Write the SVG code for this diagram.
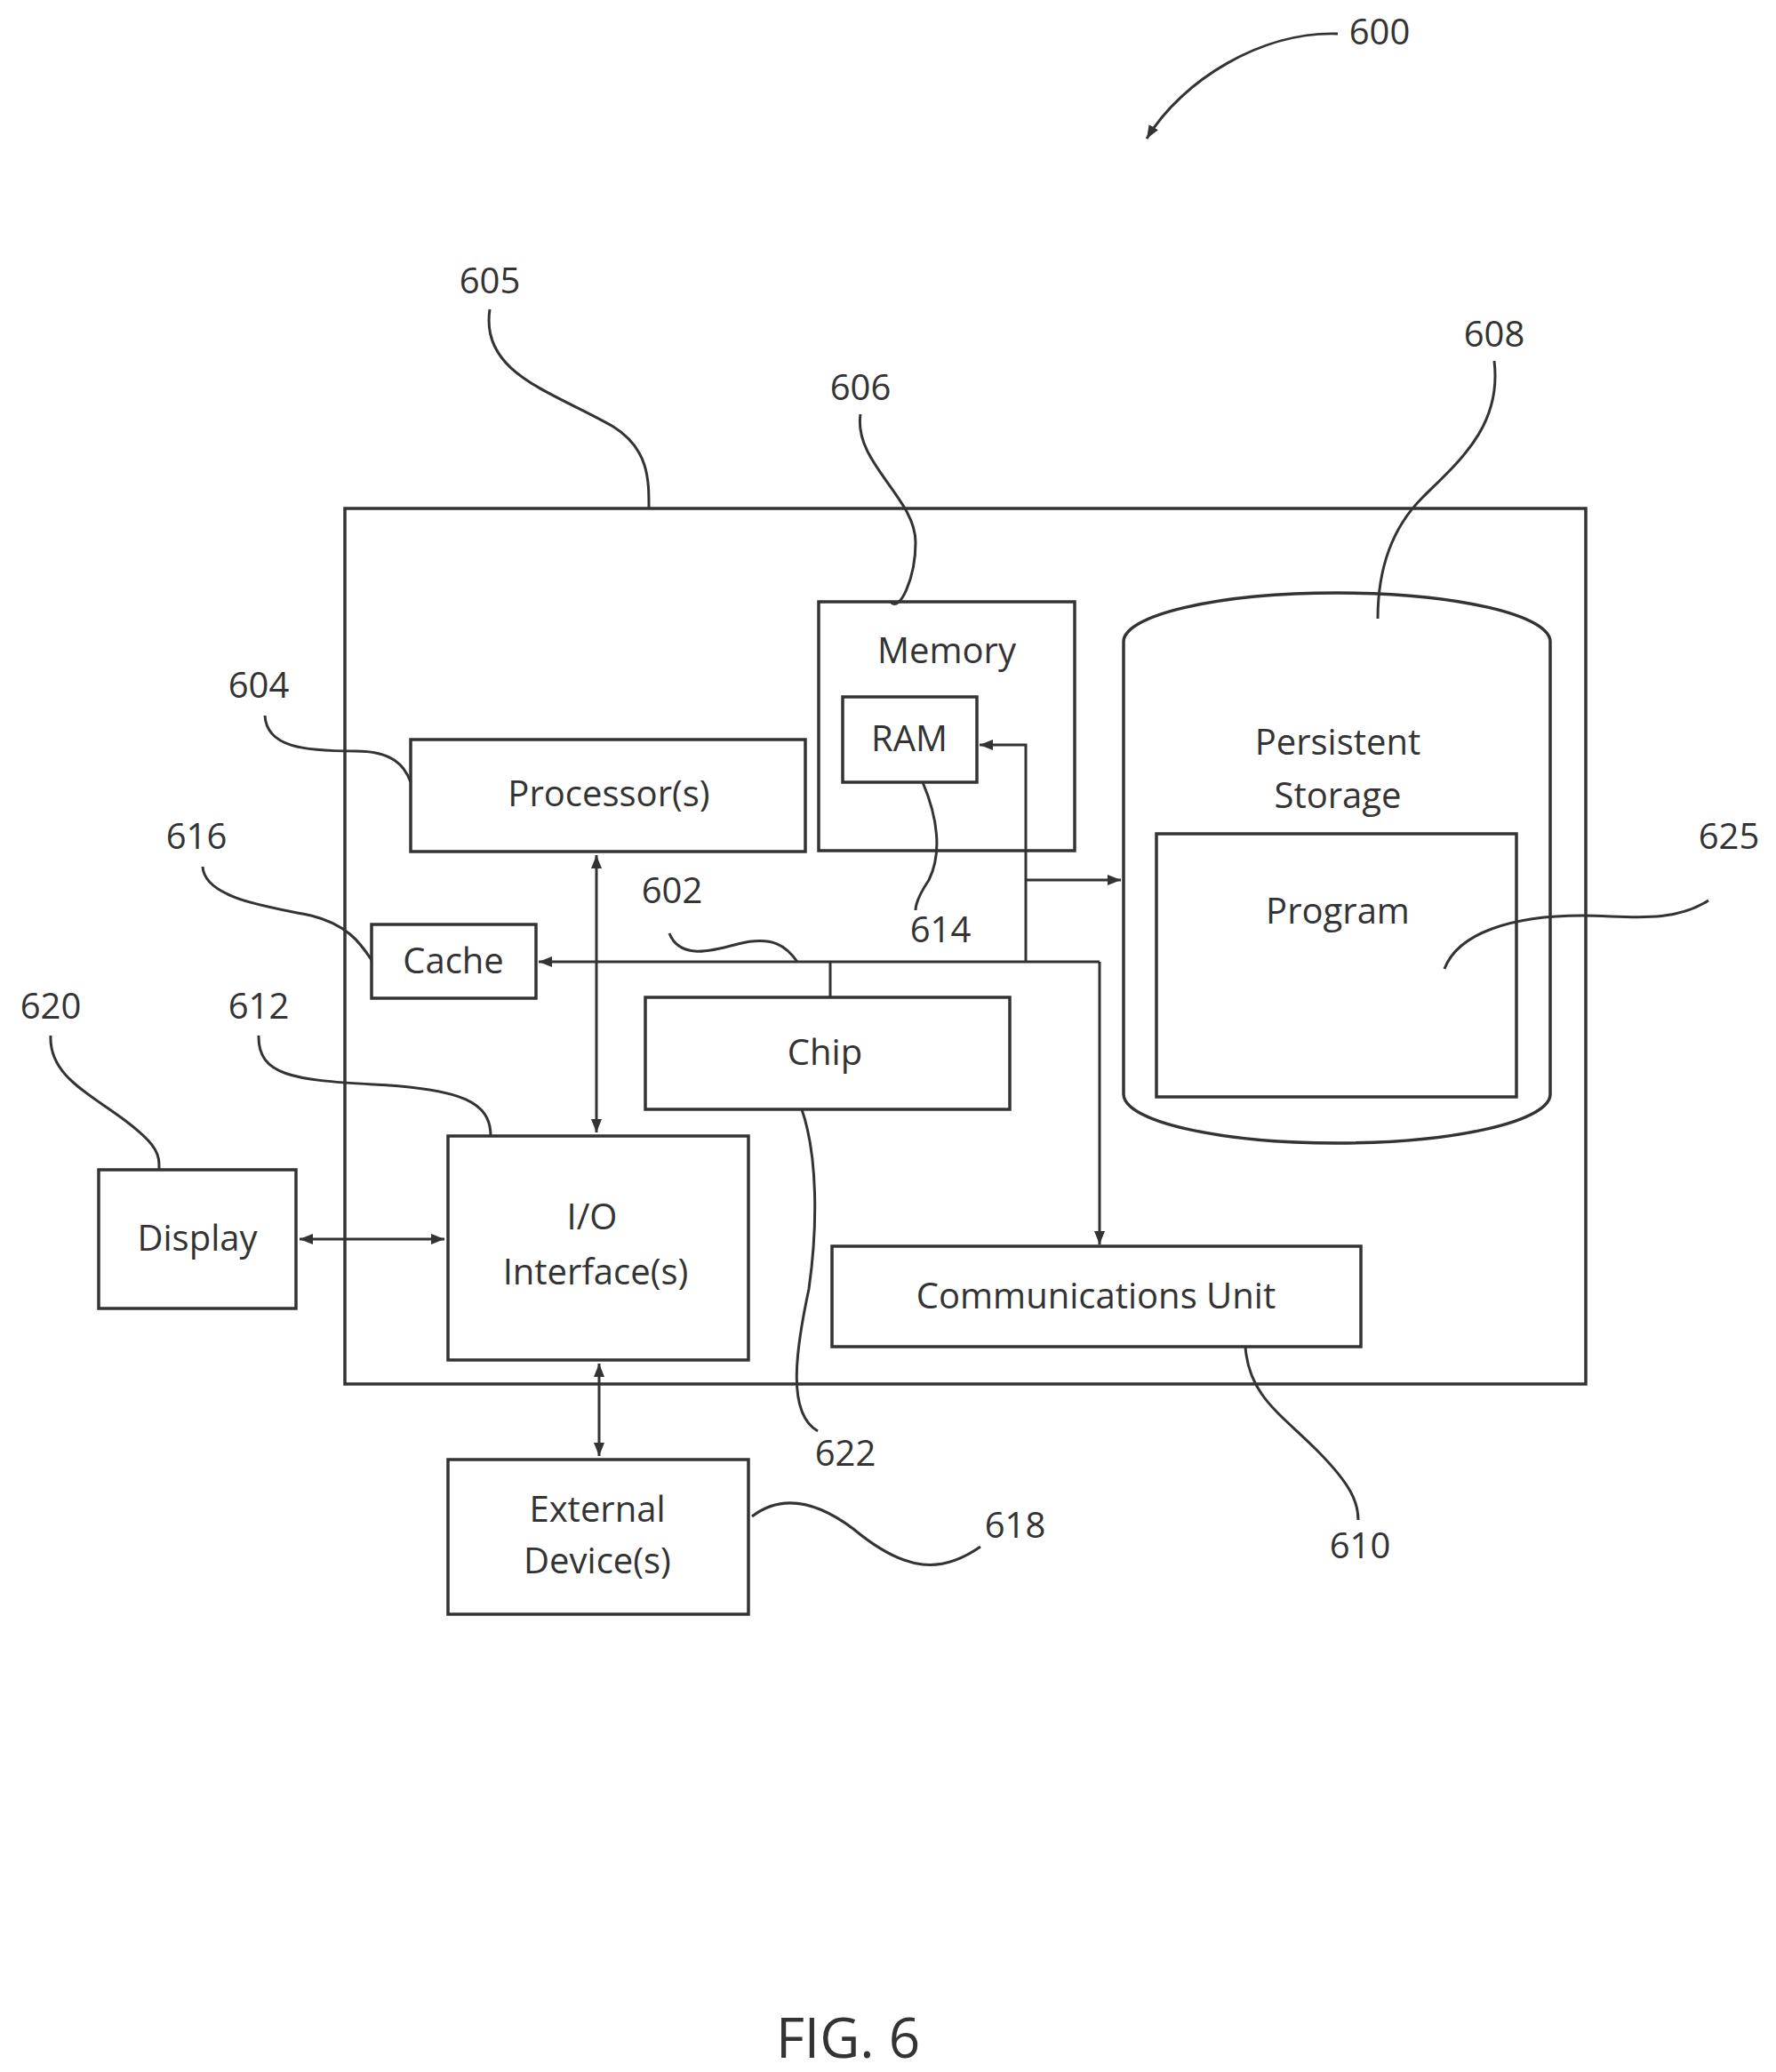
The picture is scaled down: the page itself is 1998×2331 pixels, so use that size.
<svg xmlns="http://www.w3.org/2000/svg" width="1998" height="2331" viewBox="0 0 1998 2331">
<style>
.b{fill:none;stroke:#333;stroke-width:3.5}
.l{fill:none;stroke:#333;stroke-width:3}
text{font-family:"Open Sans","Liberation Sans",sans-serif;font-size:40px;fill:#333;text-anchor:middle}
</style>
<defs>
<marker id="a" viewBox="0 0 10 10" refX="10" refY="5" markerWidth="5" markerHeight="5" orient="auto-start-reverse"><path d="M0,1 L10,5 L0,9 z" fill="#333"/></marker>
</defs>
<rect width="1998" height="2331" fill="#fff"/>
<g id="n605"><rect class="b" x="388" y="572" width="1396" height="985"/></g>
<g id="n604"><rect class="b" x="462" y="832" width="444" height="126"/><text x="685" y="907">Processor(s)</text></g>
<g id="n606"><rect class="b" x="921" y="677" width="288" height="280"/><text x="1065" y="746">Memory</text></g>
<g id="n614"><rect class="b" x="948" y="784" width="151" height="96"/><text x="1023" y="845">RAM</text></g>
<g id="n616"><rect class="b" x="418" y="1040" width="185" height="83"/><text x="510" y="1095">Cache</text></g>
<g id="n622"><rect class="b" x="726" y="1122" width="410" height="126"/><text x="928" y="1198">Chip</text></g>
<g id="n608"><path class="b" d="M1264,722 A240,55 0 0 1 1744,722 L1744,1231 A240,55 0 0 1 1264,1231 Z"/><text x="1505" y="849">Persistent</text><text x="1505" y="909">Storage</text></g>
<g id="n625"><rect class="b" x="1301" y="938" width="405" height="296"/><text x="1505" y="1039">Program</text></g>
<g id="n620"><rect class="b" x="111" y="1316" width="222" height="156"/><text x="222" y="1407">Display</text></g>
<g id="n612"><rect class="b" x="504" y="1278" width="338" height="252"/><text x="666" y="1383">I/O</text><text x="670" y="1445">Interface(s)</text></g>
<g id="n610"><rect class="b" x="936" y="1402" width="595" height="113"/><text x="1233" y="1472">Communications Unit</text></g>
<g id="n618"><rect class="b" x="504" y="1642" width="338" height="174"/><text x="672" y="1712">External</text><text x="672" y="1770">Device(s)</text></g>
<g id="connectors">
<path class="l" d="M1237,1082 L606,1082" marker-end="url(#a)"/>
<path class="l" d="M934,1082 L934,1122"/>
<path class="l" d="M1237,1082 L1237,1400" marker-end="url(#a)"/>
<path class="l" d="M1154,1082 L1154,838 L1102,838" marker-end="url(#a)"/>
<path class="l" d="M1154,990 L1261,990" marker-end="url(#a)"/>
<path class="l" d="M671,962 L671,1274" marker-start="url(#a)" marker-end="url(#a)"/>
<path class="l" d="M337,1394 L500,1394" marker-start="url(#a)" marker-end="url(#a)"/>
<path class="l" d="M674,1534 L674,1638" marker-start="url(#a)" marker-end="url(#a)"/>
</g>
<g id="labels">
<text x="1552" y="50">600</text>
<path class="l" d="M1505,38 C1420,35 1330,90 1290,156" marker-end="url(#a)"/>
<text x="551" y="330">605</text>
<path class="l" d="M551,348 C540,420 620,440 690,480 C730,505 730,540 730,571"/>
<text x="968" y="450">606</text>
<path class="l" d="M968,466 C960,520 1030,560 1030,610 C1030,650 1012,690 1002,677"/>
<text x="1681" y="390">608</text>
<path class="l" d="M1681,406 C1690,480 1640,520 1600,560 C1560,600 1550,650 1550,696"/>
<text x="1945" y="955">625</text>
<path class="l" d="M1922,1013 C1880,1040 1830,1030 1780,1030 C1700,1030 1640,1050 1625,1090"/>
<text x="291" y="785">604</text>
<path class="l" d="M298,805 C300,840 340,845 400,845 C440,845 455,860 462,880"/>
<text x="221" y="955">616</text>
<path class="l" d="M228,975 C230,1010 300,1020 350,1030 C390,1040 405,1060 418,1080"/>
<text x="57" y="1146">620</text>
<path class="l" d="M57,1165 C55,1210 100,1230 140,1260 C180,1290 179,1300 179,1316"/>
<text x="291" y="1146">612</text>
<path class="l" d="M291,1165 C290,1210 330,1215 420,1220 C520,1225 552,1240 552,1278"/>
<text x="756" y="1016">602</text>
<path class="l" d="M753,1050 C765,1080 800,1070 830,1062 C870,1052 885,1065 897,1082"/>
<text x="1058" y="1060">614</text>
<path class="l" d="M1038,880 C1055,920 1060,960 1045,990 C1035,1005 1030,1015 1030,1024"/>
<text x="951" y="1649">622</text>
<path class="l" d="M902,1248 C920,1300 920,1380 910,1450 C895,1520 885,1590 920,1610"/>
<text x="1530" y="1753">610</text>
<path class="l" d="M1401,1515 C1405,1570 1440,1590 1480,1630 C1520,1670 1528,1690 1528,1710"/>
<text x="1142" y="1730">618</text>
<path class="l" d="M846,1706 C880,1680 920,1690 960,1720 C1020,1770 1060,1770 1103,1740"/>
<text x="954" y="2315" style="font-size:62px">FIG. 6</text>
</g>
</svg>
